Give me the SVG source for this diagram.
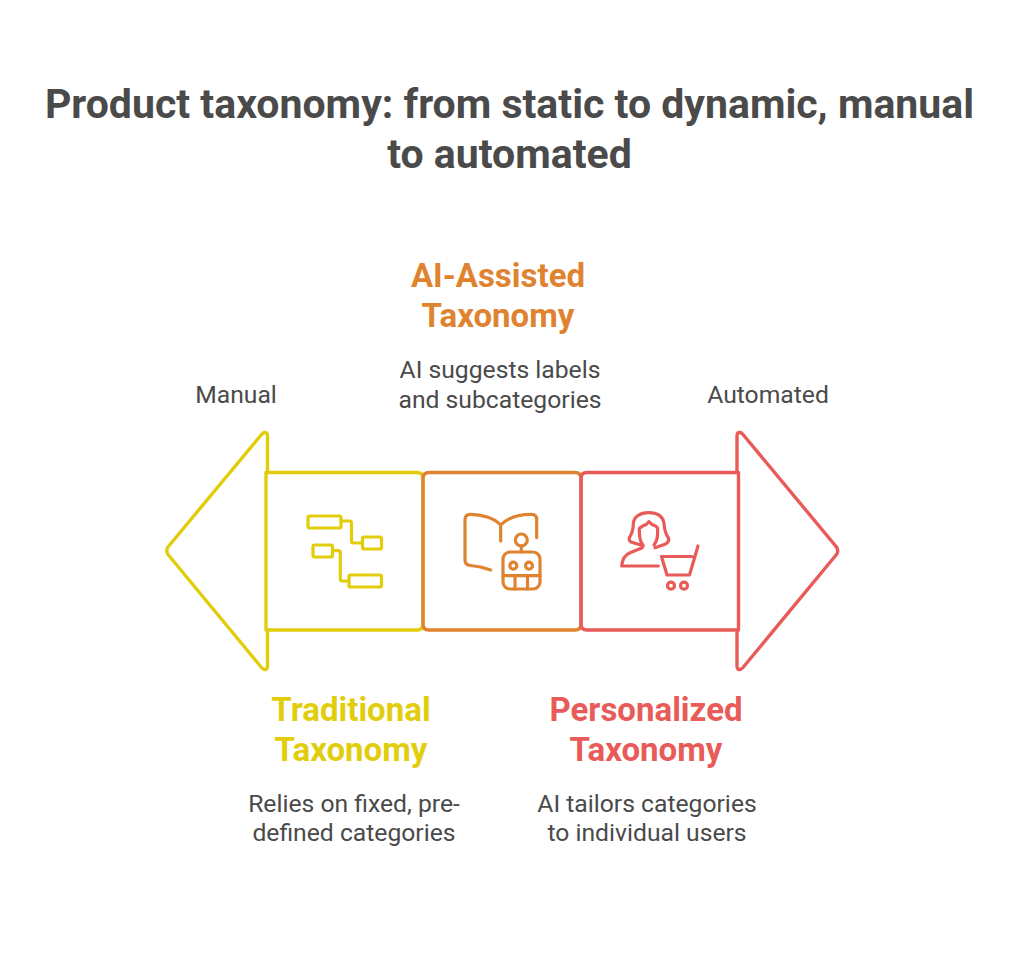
<svg xmlns="http://www.w3.org/2000/svg" width="1024" height="965" viewBox="0 0 1024 965">
<style>
text{font-family:Roboto,"Liberation Sans",sans-serif;text-anchor:middle}
.t{font-size:41px;font-weight:700;fill:#4A4A4A}
.h{font-size:33px;font-weight:700}
.b{font-size:24.700px;font-weight:400;fill:#4A4A4A}
.s{fill:none;stroke-width:3.400;stroke-linecap:round;stroke-linejoin:round}
.i{fill:none;stroke-width:3.200;stroke-linecap:round;stroke-linejoin:round}
.y{stroke:#E2CD0C}.o{stroke:#E08330}.r{stroke:#E85B58}
</style>
<rect width="1024" height="965" fill="#fff"/>
<g id="title"><text class="t" x="509.500" y="118">Product taxonomy: from static to dynamic, manual</text><text class="t" x="509.500" y="168">to automated</text></g>
<g id="label-manual"><text class="b" x="236" y="403">Manual</text></g>
<g id="label-automated"><text class="b" x="768" y="403">Automated</text></g>
<g id="traditional">
<path class="s y" d="M267.500 472V436Q267.500 432 264.500 432.500Q263 432.800 261.500 434.500L168 547Q165.500 550.700 168 554.500L261.500 667.500Q263 669.200 264.500 669.500Q267.500 670 267.500 666V630"/>
<path class="s y" d="M266 472.500H417Q423 472.500 423 478.500V624Q423 630 417 630H266Z"/>
<g class="i y"><rect x="308" y="516" width="33" height="12" rx="1.500"/><rect x="362.500" y="537" width="19" height="12" rx="1.500"/><rect x="313" y="545" width="19.500" height="12" rx="1.500"/><rect x="349" y="575" width="32.500" height="12" rx="1.500"/><path d="M341 521H349.500Q351.500 521 351.500 523V541Q351.500 543 353.500 543H362.500M332.500 550.700H338.300Q340.300 550.700 340.300 552.700V579Q340.300 581 342.300 581H349"/></g>
<text class="h" x="351" y="721" fill="#E2CD0C">Traditional</text><text class="h" x="351" y="761" fill="#E2CD0C">Taxonomy</text>
<text class="b" x="354" y="812">Relies on fixed, pre-</text><text class="b" x="354" y="841">defined categories</text>
</g>
<g id="ai-assisted">
<path class="s o" d="M429 472.500H575Q581 472.500 581 478.500V624Q581 630 575 630H429Q423 630 423 624V478.500Q423 472.500 429 472.500Z"/>
<g class="i o"><path d="M490.700 570C484 567.500 477 566 470.500 565.500Q465 565 465 560V520Q465 514.300 470.500 514.300C482 514.300 494 518 500.700 525V541M500.700 525C507.500 518 519.500 514.300 531.500 514.300Q536.700 514.300 536.700 519.500V537.700"/><rect x="503" y="552" width="37" height="37" rx="7"/><circle cx="521.300" cy="540" r="6"/><path d="M521.300 546V552M503 575.700H540M515 575.700V589M527.500 575.700V589"/><circle cx="513.300" cy="565.700" r="3.500"/><circle cx="529" cy="565.700" r="3.500"/></g>
<text class="h" x="498" y="287" fill="#E08330">AI-Assisted</text><text class="h" x="498" y="327" fill="#E08330">Taxonomy</text>
<text class="b" x="500" y="378">AI suggests labels</text><text class="b" x="500" y="407.500">and subcategories</text>
</g>
<g id="personalized">
<path class="s r" d="M738.500 472.500H587Q581 472.500 581 478.500V624Q581 630 587 630H738.500Z"/>
<path class="s r" d="M737 472V436Q737 432 740 432.500Q741.500 432.800 743 434.500L836.500 547Q839 550.700 836.500 554.500L743 667.500Q741.500 669.200 740 669.500Q737 670 737 666V630"/>
<g class="i r"><path transform="translate(610 505) scale(.3333)" stroke-width="9.600" d="M135 128L165 118Q180 110 175 98C165 85 163 70 162 55C158 30 135 23 115 23C90 23 72 35 70 55C70 72 65 88 58 98Q55 110 70 113L100 122C90 108 88 100 88 70L100 62Q110 60 117 50Q125 60 137 63L143 70C143 95 143 105 132 120M97 128L60 143Q38 152 35 183H145"/><path d="M661.500 556.500H692M661.500 556.500L667 575H689.500L698 546"/><circle cx="671" cy="585.700" r="3.500"/><circle cx="684" cy="585.700" r="3.500"/></g>
<text class="h" x="646" y="721" fill="#E85B58">Personalized</text><text class="h" x="646" y="761" fill="#E85B58">Taxonomy</text>
<text class="b" x="647" y="812">AI tailors categories</text><text class="b" x="647" y="841">to individual users</text>
</g>
<g id="connectors"/>
</svg>
